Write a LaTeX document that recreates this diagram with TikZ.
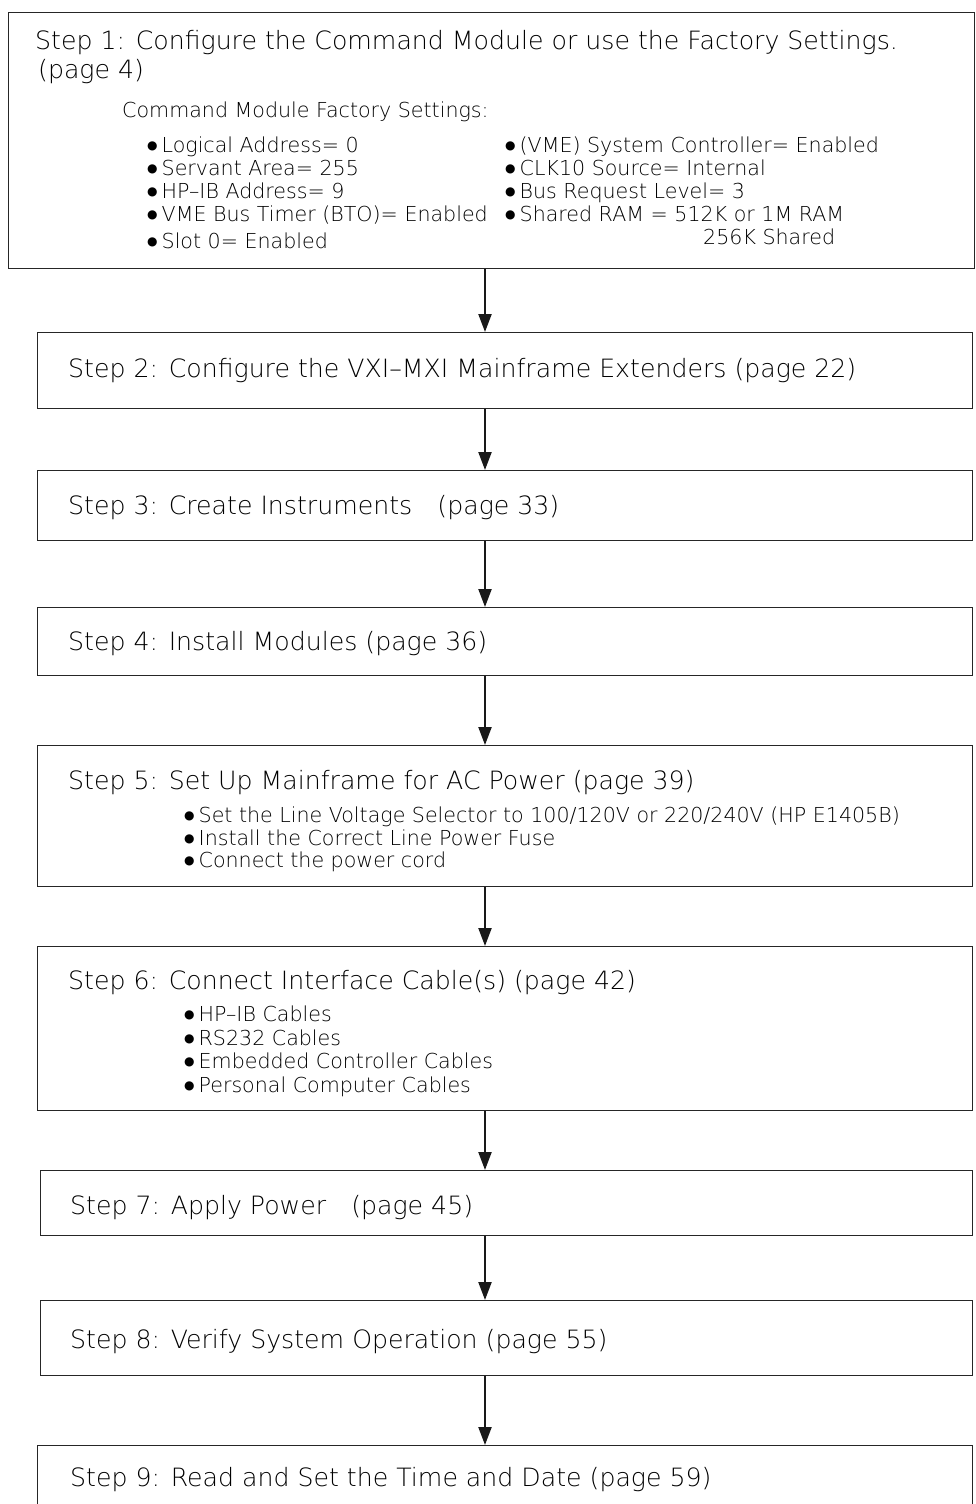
\documentclass[tikz,border=0pt]{standalone}
\usepackage{fontspec}
\setmainfont{DejaVu Sans ExtraLight}
\newfontfamily\symfont{DejaVu Sans}
\usetikzlibrary{arrows.meta}
\newcommand{\bul}{\raisebox{2.5pt}{\symfont\fontsize{12}{12}\selectfont ●}\hspace{4pt}}
\begin{document}
\begin{tikzpicture}[x=1pt,y=1pt,
  box/.style={draw=black!85, line width=1.3pt, inner sep=0pt, anchor=north west},
  arr/.style={line width=2.2pt, black!90, -{Triangle[length=18pt,width=13pt]}},
  title/.style={anchor=base west, inner sep=0pt, font=\fontsize{25.2}{29}\selectfont},
  item/.style={anchor=base west, inner sep=0pt, font=\fontsize{20.6}{24}\selectfont}]
\useasboundingbox (0,0) rectangle (976,-1504);
\clip (0,0) rectangle (976,-1504);
\fill[white] (0,0) rectangle (976,-1504);
\coordinate (ax) at (485,0);
% boxes
\node[box, minimum width=966pt, minimum height=256pt] (b1) at (8,-12) {};
\node[box, minimum width=935pt, minimum height=76pt] (b2) at (37,-332) {};
\node[box, minimum width=935pt, minimum height=70pt] (b3) at (37,-470) {};
\node[box, minimum width=935pt, minimum height=68pt] (b4) at (37,-607) {};
\node[box, minimum width=935pt, minimum height=141pt] (b5) at (37,-745) {};
\node[box, minimum width=935pt, minimum height=164pt] (b6) at (37,-946) {};
\node[box, minimum width=932pt, minimum height=65pt] (b7) at (40,-1170) {};
\node[box, minimum width=932pt, minimum height=75pt] (b8) at (40,-1300) {};
\node[box, minimum width=935pt, minimum height=90pt] (b9) at (37,-1445) {};
% arrows
\draw[arr] (b1.south -| ax) -- (b2.north -| ax);
\draw[arr] (b2.south -| ax) -- (b3.north -| ax);
\draw[arr] (b3.south -| ax) -- (b4.north -| ax);
\draw[arr] (b4.south -| ax) -- (b5.north -| ax);
\draw[arr] (b5.south -| ax) -- (b6.north -| ax);
\draw[arr] (b6.south -| ax) -- (b7.north -| ax);
\draw[arr] (b7.south -| ax) -- (b8.north -| ax);
\draw[arr] (b8.south -| ax) -- (b9.north -| ax);
% step 1
\node[title] (t1) at (35,-50) {Step 1: Configure the Command Module or use the Factory Settings.};
\node[title] (t1b) at (38,-78) {(page 4)};
\node[item] (t1c) at (122,-117) {Command Module Factory Settings:};
\node[item] (l1) at (147,-152) {\bul Logical Address= 0};
\node[item] (l2) at (147,-175) {\bul Servant Area= 255};
\node[item] (l3) at (147,-198) {\bul HP--IB Address= 9};
\node[item] (l4) at (147,-221) {\bul VME Bus Timer (BTO)= Enabled};
\node[item] (l5) at (147,-248) {\bul Slot 0= Enabled};
\node[item] (r1) at (505,-152) {\bul (VME) System Controller= Enabled};
\node[item] (r2) at (505,-175) {\bul CLK10 Source= Internal};
\node[item] (r3) at (505,-198) {\bul Bus Request Level= 3};
\node[item] (r4) at (505,-221) {\bul Shared RAM = 512K or 1M RAM};
\node[item] (r5) at (703,-244) {256K Shared};
% steps
\node[title] (t2) at (68,-377) {Step 2: Configure the VXI--MXI Mainframe Extenders (page 22)};
\node[title] (t3) at (68,-514) {Step 3: Create Instruments\quad(page 33)};
\node[title] (t4) at (68,-650) {Step 4: Install Modules (page 36)};
\node[title] (t5) at (68,-789) {Step 5: Set Up Mainframe for AC Power (page 39)};
\node[item] (s51) at (184,-822) {\bul Set the Line Voltage Selector to 100/120V or 220/240V (HP E1405B)};
\node[item] (s52) at (184,-845) {\bul Install the Correct Line Power Fuse};
\node[item] (s53) at (184,-867) {\bul Connect the power cord};
\node[title] (t6) at (68,-989) {Step 6: Connect Interface Cable(s) (page 42)};
\node[item] (s61) at (184,-1021) {\bul HP--IB Cables};
\node[item] (s62) at (184,-1045) {\bul RS232 Cables};
\node[item] (s63) at (184,-1068) {\bul Embedded Controller Cables};
\node[item] (s64) at (184,-1092) {\bul Personal Computer Cables};
\node[title] (t7) at (70,-1214) {Step 7: Apply Power\quad(page 45)};
\node[title] (t8) at (70,-1348) {Step 8: Verify System Operation (page 55)};
\node[title] (t9) at (70,-1486) {Step 9: Read and Set the Time and Date (page 59)};
\end{tikzpicture}
\end{document}
